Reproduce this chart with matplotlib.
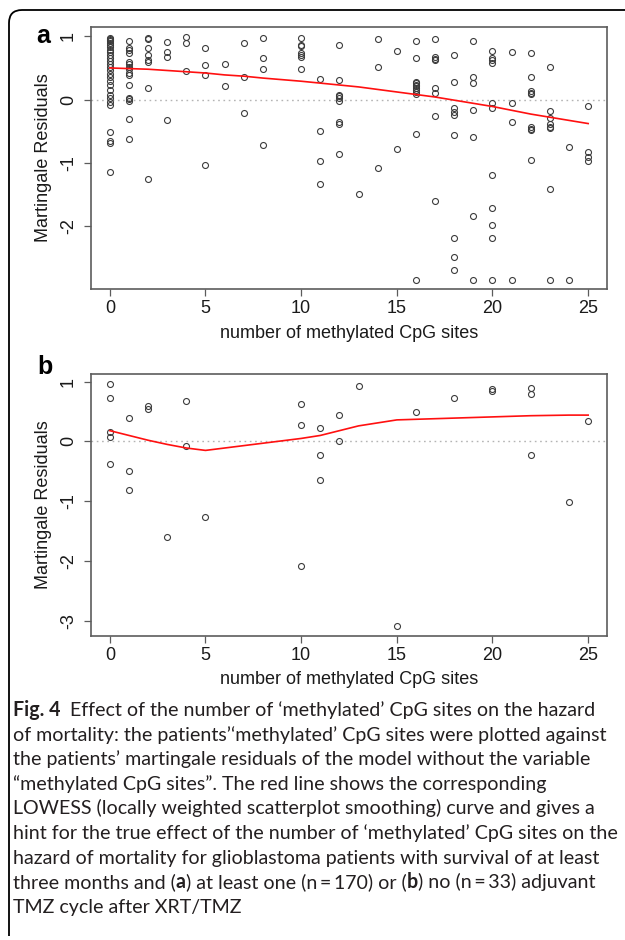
import matplotlib
matplotlib.use("Agg")
import matplotlib.pyplot as plt
from matplotlib.path import Path
from matplotlib.patches import PathPatch

plt.rcParams["font.family"] = ["Liberation Sans", "DejaVu Sans"]
plt.rcParams["axes.unicode_minus"] = False

# ---- panel a: at least one adjuvant TMZ cycle (n = 170) ----
a_sites = (
    [0] * 26 + [1] * 16 + [2] * 8 + [3] * 4 + [4] * 3 + [5] * 4 + [6] * 2 + [7] * 3
    + [8] * 4 + [10] * 7 + [11] * 4 + [12] * 9 + [13] * 1 + [14] * 3 + [15] * 2
    + [16] * 12 + [17] * 8 + [18] * 9 + [19] * 7 + [20] * 11 + [21] * 4 + [22] * 9
    + [23] * 8 + [24] * 2 + [25] * 4
)
a_resid = [
    # 0
    0.98, 0.96, 0.94, 0.92, 0.89, 0.86, 0.83, 0.79, 0.75, 0.71, 0.66, 0.61, 0.56,
    0.51, 0.46, 0.41, 0.35, 0.29, 0.23, 0.15, 0.07, 0.02, -0.04, -0.08,
    -0.51, -1.14,
    # 1
    0.93, 0.82, 0.78, 0.74, 0.59, 0.56, 0.52, 0.49, 0.42, 0.39, 0.23, 0.03, 0.01,
    -0.02, -0.31, -0.62,
    # 2
    0.98, 0.96, 0.81, 0.71, 0.62, 0.59, 0.19, -1.26,
    # 3
    0.91, 0.76, 0.67, -0.33,
    # 4
    0.99, 0.89, 0.45,
    # 5
    0.81, 0.55, 0.39, -1.04,
    # 6
    0.56, 0.21,
    # 7
    0.90, 0.36, -0.22,
    # 8
    0.98, 0.65, 0.49, -0.72,
    # 10
    0.98, 0.86, 0.84, 0.73, 0.70, 0.67, 0.48,
    # 11
    0.32, -0.49, -0.98, -1.33,
    # 12
    0.87, 0.31, 0.07, 0.05, 0.02, -0.02, -0.36, -0.38, -0.86,
    # 13
    -1.49,
    # 14
    0.96, 0.52, -1.09,
    # 15
    0.77, -0.79,
    # 16
    0.93, 0.66, 0.28, 0.26, 0.23, 0.21, 0.18, 0.15, 0.12, 0.08, -0.54, -2.85,
    # 17
    0.96, 0.67, 0.64, 0.62, 0.19, 0.11, -0.26, -1.60,
    # 18
    0.71, 0.28, -0.13, -0.20, -0.24, -0.56, -2.19, -2.49, -2.70,
    # 19
    0.93, 0.35, 0.26, -0.16, -0.59, -1.85, -2.85,
    # 20
    0.77, 0.65, 0.62, 0.58, -0.06, -0.14, -1.19, -1.71, -1.99, -2.19, -2.85,
    # 21
    0.75, -0.05, -0.36, -2.85,
    # 22
    0.73, 0.36, 0.14, 0.11, 0.08, -0.43, -0.46, -0.48, -0.95,
    # 23
    0.52, -0.18, -0.29, -0.39, -0.43, -0.45, -1.41, -2.85,
    # 24
    -0.75, -2.85,
    # 25
    -0.11, -0.83, -0.91, -0.98,
]
# the x = 0 group also holds two residuals near -0.66
a_sites += [0, 0]
a_resid += [-0.65, -0.68]

a_lowess_x = [0, 1, 2, 3, 4, 5, 6, 7, 8, 10, 11, 12, 13, 14, 15, 16, 17, 18,
              19, 20, 21, 22, 23, 24, 25]
a_lowess_y = [0.50, 0.49, 0.48, 0.46, 0.44, 0.42, 0.39, 0.37, 0.34, 0.29, 0.26,
              0.23, 0.20, 0.16, 0.12, 0.08, 0.04, -0.01, -0.06, -0.11, -0.17,
              -0.23, -0.28, -0.33, -0.38]

# ---- panel b: no adjuvant TMZ cycle (n = 33) ----
b_sites = [0, 0, 0, 0, 0, 1, 1, 1, 2, 2, 3, 4, 4, 5, 10, 10, 10, 11, 11, 11,
           12, 12, 13, 15, 16, 18, 20, 20, 22, 22, 22, 24, 25]
b_resid = [0.96, 0.73, 0.16, 0.08, -0.38, 0.39, -0.50, -0.81, 0.60, 0.54,
           -1.59, 0.68, -0.08, -1.26, 0.63, 0.28, -2.09, 0.22, -0.22, -0.64,
           0.45, 0.01, 0.93, -3.09, 0.50, 0.73, 0.87, 0.84, 0.89, 0.79, -0.22,
           -1.01, 0.34]

b_lowess_x = [0, 1, 2, 3, 4, 5, 10, 11, 12, 13, 15, 16, 18, 20, 22, 24, 25]
b_lowess_y = [0.18, 0.10, 0.02, -0.05, -0.11, -0.15, 0.05, 0.10, 0.18, 0.26,
              0.36, 0.37, 0.39, 0.41, 0.43, 0.44, 0.44]

x_ticks = [0, 5, 10, 15, 20, 25]
a_yticks = [-2, -1, 0, 1]
b_yticks = [-3, -2, -1, 0, 1]

W, H = 625, 940
fig = plt.figure(figsize=(W / 100, H / 100), dpi=100)
fig.patch.set_facecolor("white")


def fx(px):
    return px / W


def fy(py):
    return 1 - py / H


FRAME = "#5c5c5c"
TXT = "#1a1a1a"


def panel(top, bottom, sites, resid, lx, ly, yticks):
    ax = fig.add_axes([fx(90.7), fy(bottom), (607.3 - 90.7) / W, (bottom - top) / H])
    ax.axhline(0, color="#b4b4b4", lw=1.0, ls=(0, (1.2, 2.6)), zorder=1)
    ax.plot(sites, resid, "o", mfc="none", mec="#3c3c3c", ms=4.3, mew=0.8, zorder=2)
    ax.plot(lx, ly, color="#ff1010", lw=1.2, zorder=3)
    lo, hi = min(resid), max(resid)
    pad = 0.04 * (hi - lo)
    ax.set_ylim(lo - pad, hi + pad)
    ax.set_xlim(-1, 26)
    ax.set_xticks(x_ticks)
    ax.set_xticklabels([str(t) for t in x_ticks], fontsize=13, color=TXT)
    ax.set_yticks(yticks)
    ax.set_yticklabels([str(t) for t in yticks], fontsize=13, color=TXT,
                       rotation=90, va="center")
    ax.tick_params(axis="both", direction="out", length=5, width=0.9, color=FRAME)
    ax.tick_params(axis="x", pad=3)
    ax.tick_params(axis="y", pad=5)
    for s in ax.spines.values():
        s.set_color(FRAME)
        s.set_linewidth(1.2)
    return ax


ax_a = panel(27.3, 289.3, a_sites, a_resid, a_lowess_x, a_lowess_y, a_yticks)
ax_b = panel(374.3, 636.0, b_sites, b_resid, b_lowess_x, b_lowess_y, b_yticks)

for (xc, yc) in [(349, 333), (349, 680)]:
    fig.text(fx(xc), fy(yc), "number of methylated CpG sites", fontsize=13,
             color=TXT, ha="center", va="center")
for (xc, yc) in [(44, 158), (44, 505)]:
    fig.text(fx(xc), fy(yc), "Martingale Residuals", fontsize=13, color=TXT,
             ha="center", va="center", rotation=90)

fig.text(fx(43.5), fy(36), "a", fontsize=18, fontweight="bold", color="black",
         ha="center", va="center")
fig.text(fx(45), fy(367), "b", fontsize=18, fontweight="bold", color="black",
         ha="center", va="center")

# outer frame with rounded top-left corner
verts = [(fx(9), fy(936)), (fx(9), fy(23)), (fx(9), fy(10)), (fx(22), fy(10)),
         (fx(625), fy(10))]
codes = [Path.MOVETO, Path.LINETO, Path.CURVE3, Path.CURVE3, Path.LINETO]
fig.add_artist(PathPatch(Path(verts, codes), fill=False, lw=1.3, ec="black",
                         transform=fig.transFigure))

# caption, written piece by piece so bold runs sit inline
CAP_FONT = ["Lato", "DejaVu Sans"]
CAP_SIZE = 14.15
CAP_COLOR = "#231f20"
caption = [
    [("Fig. 4", True), ("  Effect of the number of \u2018methylated\u2019 CpG sites on the hazard", False)],
    [("of mortality: the patients\u2019\u2018methylated\u2019 CpG sites were plotted against", False)],
    [("the patients\u2019 martingale residuals of the model without the variable", False)],
    [("\u201cmethylated CpG sites\u201d. The red line shows the corresponding", False)],
    [("LOWESS (locally weighted scatterplot smoothing) curve and gives a", False)],
    [("hint for the true effect of the number of \u2018methylated\u2019 CpG sites on the", False)],
    [("hazard of mortality for glioblastoma patients with survival of at least", False)],
    [("three months and (", False), ("a", True), (") at least one (n\u2009=\u2009170) or (", False),
     ("b", True), (") no (n\u2009=\u200933) adjuvant", False)],
    [("TMZ cycle after XRT/TMZ", False)],
]
renderer = fig.canvas.get_renderer()
base0, step = 716, 24.6
for i, line in enumerate(caption):
    x = fx(13)
    yb = fy(base0 + i * step)
    for txt, bold in line:
        t = fig.text(x, yb, txt, fontsize=CAP_SIZE, family=CAP_FONT,
                     fontweight="bold" if bold else "normal", color=CAP_COLOR,
                     ha="left", va="baseline")
        bb = t.get_window_extent(renderer)
        x = bb.x1 / W

fig.savefig("out.png", dpi=100, facecolor="white")
